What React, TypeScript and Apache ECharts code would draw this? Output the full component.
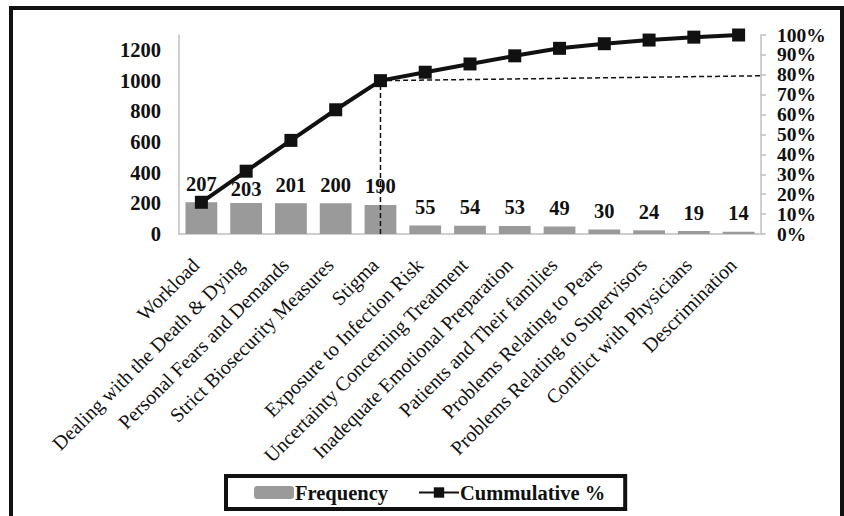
import React, { useEffect, useRef } from "react";
import * as echarts from "echarts";

const categories = [
  "Workload",
  "Dealing with the Death & Dying",
  "Personal Fears and Demands",
  "Strict Biosecurity Measures",
  "Stigma",
  "Exposure to Infection Risk",
  "Uncertainty Concerning Treatment",
  "Inadequate Emotional Preparation",
  "Patients and Their families",
  "Problems Relating to Pears",
  "Problems Relating to Supervisors",
  "Conflict with Physicians",
  "Descrimination",
];
const frequency = [207, 203, 201, 200, 190, 55, 54, 53, 49, 30, 24, 19, 14];
const cumulativePct = [15.94, 31.56, 47.04, 62.43, 77.06, 81.29, 85.45, 89.53, 93.3, 95.61, 97.46, 98.92, 100];
const frequencyTotal = 1299;
const leftTickMax = 1200;
const guideX = [4, 4, 12.5];
const guideY = [0, 77.06, 79.5];

const SERIF = "'Liberation Serif', 'Times New Roman', serif";

export default function App() {
  const ref = useRef<HTMLDivElement>(null);
  useEffect(() => {
    if (!ref.current) return;
    const chart = echarts.init(ref.current, undefined, { renderer: "svg" });
    const barData = frequency.map((v, i) =>
      i === 1 ? { value: v, label: { offset: [0, 5] } } : v
    );
    chart.setOption({
      animation: false,
      backgroundColor: "#fff",
      textStyle: { fontFamily: SERIF },
      grid: { left: 179, right: 83, top: 35, bottom: 282, containLabel: false },
      graphic: [
        {
          type: "rect",
          shape: { x: 11, y: 8, width: 831, height: 520 },
          style: { fill: "none", stroke: "#111", lineWidth: 4 },
          silent: true,
          z: 100,
        },
      ],
      legend: {
        data: ["Frequency", "Cummulative %"],
        bottom: 7,
        left: 226,
        padding: [6, 20, 6, 28],
        borderColor: "#111",
        borderWidth: 4,
        itemWidth: 40,
        itemHeight: 13,
        itemGap: 30,
        textStyle: { fontFamily: SERIF, fontWeight: "bold", fontSize: 20.5, color: "#111", padding: [0, 0, 0, -4] },
      },
      xAxis: [
        {
          type: "category",
          data: categories,
          axisLine: { onZero: false, lineStyle: { color: "#bfbfbf", width: 1.5 } },
          axisTick: { length: 6, lineStyle: { color: "#bfbfbf", width: 1.5 } },
          axisLabel: {
            rotate: 45,
            interval: 0,
            margin: 22,
            padding: [0, 8, 0, 0],
            fontFamily: SERIF,
            fontSize: 20,
            color: "#111",
          },
        },
        { type: "value", min: -0.5, max: 12.5, show: false },
      ],
      yAxis: [
        {
          type: "value",
          min: 0,
          max: frequencyTotal,
          interval: 200,
          splitLine: { show: false },
          axisLine: { show: true, onZero: false, lineStyle: { color: "#bfbfbf", width: 1.5 } },
          axisTick: { show: false },
          axisLabel: {
            margin: 18,
            fontFamily: SERIF,
            fontWeight: "bold",
            fontSize: 20.5,
            color: "#111",
            formatter: (v: number) => (v > leftTickMax ? "" : String(v)),
          },
        },
        {
          type: "value",
          position: "right",
          min: 0,
          max: 100,
          interval: 10,
          splitLine: { show: false },
          axisLine: { show: true, onZero: false, lineStyle: { color: "#bfbfbf", width: 1.5 } },
          axisTick: { show: true, length: 5, lineStyle: { color: "#bfbfbf", width: 1.5 } },
          axisLabel: {
            margin: 16,
            fontFamily: SERIF,
            fontWeight: "bold",
            fontSize: 19.5,
            color: "#111",
            formatter: "{value}%",
          },
        },
      ],
      series: [
        {
          name: "Frequency",
          type: "bar",
          data: barData,
          barCategoryGap: "29%",
          itemStyle: { color: "#9a9a9a" },
          label: {
            show: true,
            position: "top",
            distance: 8,
            fontFamily: SERIF,
            fontWeight: "bold",
            fontSize: 20.5,
            color: "#111",
          },
          z: 1,
        },
        {
          name: "guide",
          type: "line",
          xAxisIndex: 1,
          yAxisIndex: 1,
          data: guideX.map((x, i) => [x, guideY[i]]),
          symbol: "none",
          silent: true,
          lineStyle: { color: "#111", width: 1.5, type: [5, 3] },
          z: 2,
        },
        {
          name: "Cummulative %",
          type: "line",
          yAxisIndex: 1,
          data: cumulativePct,
          symbol: "rect",
          symbolSize: 13,
          lineStyle: { color: "#111", width: 4 },
          itemStyle: { color: "#111" },
          z: 3,
        },
      ],
    });
    return () => chart.dispose();
  }, []);
  return (
    <div
      ref={ref}
      style={{ position: "absolute", left: 0, top: 0, width: 844, height: 516 }}
    />
  );
}
